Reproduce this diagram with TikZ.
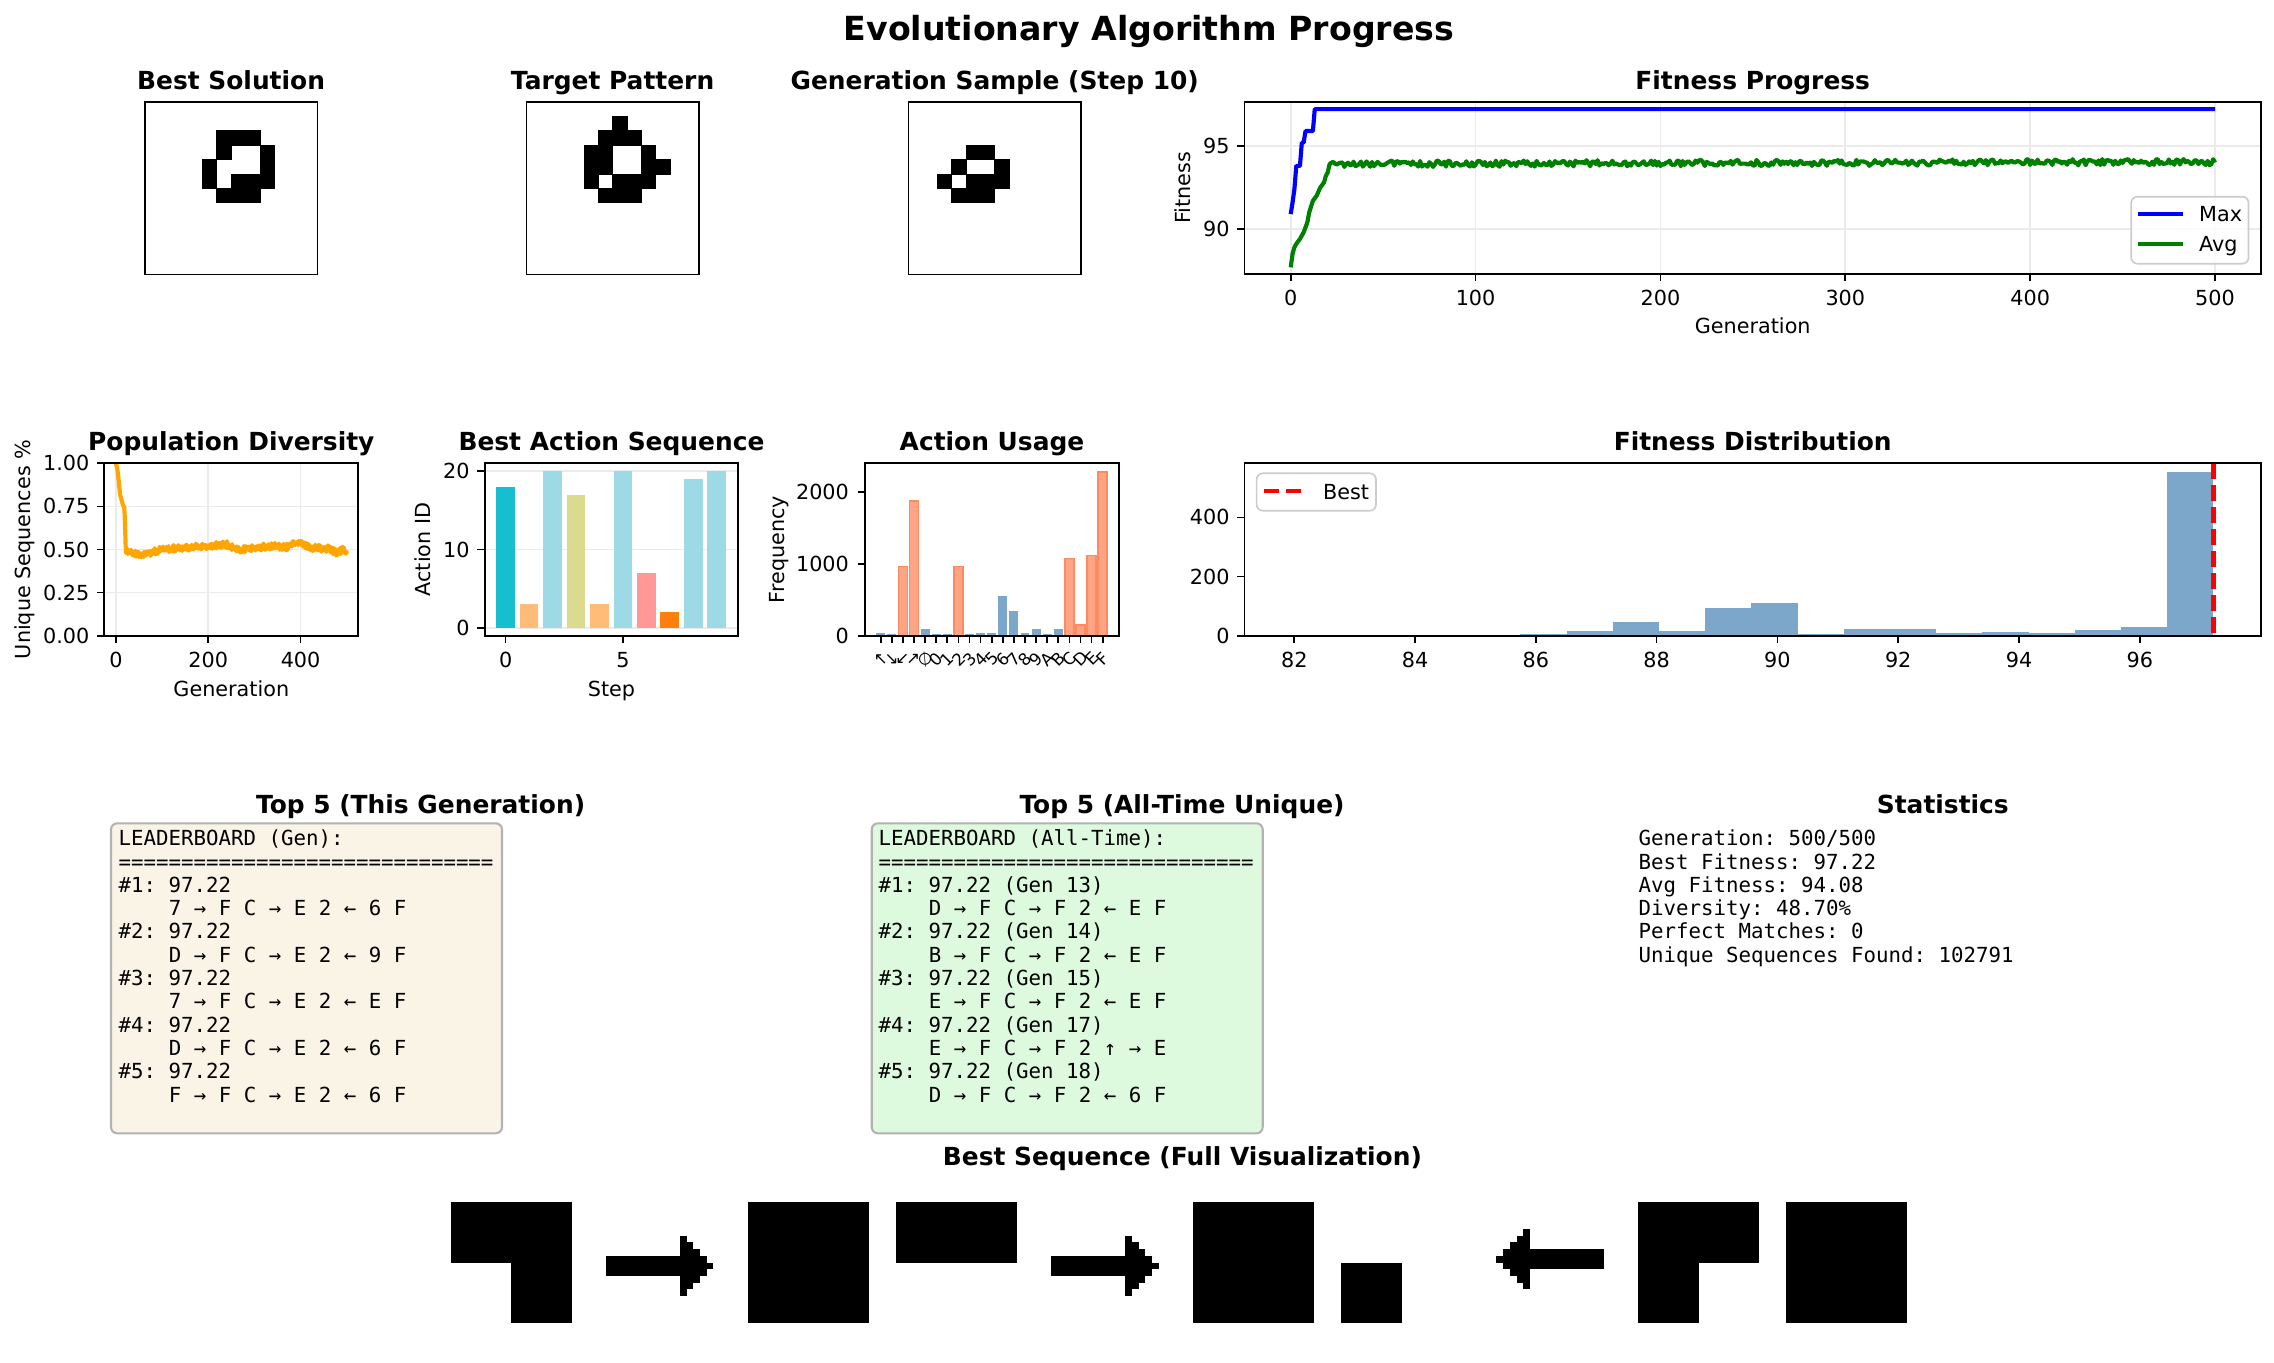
\documentclass[tikz,border=0pt]{standalone}
\usepackage{fontspec}
\setmainfont{DejaVu Sans}
\newfontfamily\dvmono{DejaVu Sans Mono}
\frenchspacing
\definecolor{gridc}{RGB}{235,235,235}
\definecolor{barblue}{RGB}{125,167,202}
\definecolor{barcoral}{RGB}{255,165,133}
\definecolor{barcoraledge}{RGB}{255,138,98}
\definecolor{wheatbg}{RGB}{250,244,231}
\definecolor{greenbg}{RGB}{222,250,222}
\definecolor{boxedge}{RGB}{178,178,178}
\definecolor{legedge}{RGB}{204,204,204}
\definecolor{mplgreen}{RGB}{0,128,0}
\definecolor{mplorange}{RGB}{255,165,0}
\definecolor{tabcyan}{HTML}{17BECF}
\definecolor{tabpeach}{HTML}{FFBB78}
\definecolor{tablblue}{HTML}{9EDAE5}
\definecolor{tabolive}{HTML}{DBDB8D}
\definecolor{tabpink}{HTML}{FF9896}
\definecolor{taborange}{HTML}{FF7F0E}
\begin{document}
\begin{tikzpicture}[x=0.0169333cm,y=-0.0169333cm,
  declare function={fpx(\pg)=1290.7+1.8486*\pg; fpy(\pf)=146-16.6*(\pf-95);
    dvx(\pg)=115.9+0.4617*\pg; dvy(\pd)=635.7-172.4*\pd;
    lerp(\ps,\pa,\pva,\pb,\pvb)=\pva+(\pvb-\pva)*(\ps-\pa)/(\pb-\pa);},
  axbox/.style={draw=black, line width=0.8pt},
  gridl/.style={draw=gridc, line width=0.8pt},
  tickl/.style={draw=black, line width=0.8pt},
  ttl/.style={font=\fontsize{12}{14}\selectfont\bfseries, anchor=base, inner sep=0pt},
  lbl/.style={font=\fontsize{10}{12}\selectfont, anchor=base, inner sep=0pt},
  ylbl/.style={font=\fontsize{10}{12}\selectfont, anchor=base, inner sep=0pt, rotate=90},
  ytl/.style={font=\fontsize{10}{12}\selectfont, anchor=east, inner sep=0pt},
  xtl/.style={font=\fontsize{10}{12}\selectfont, anchor=base, inner sep=0pt},
  legtxt/.style={font=\fontsize{10}{12}\selectfont, anchor=base west, inner sep=0pt},
  mono/.style={font=\dvmono\fontsize{10}{12}\selectfont\frenchspacing, anchor=base west, inner sep=0pt},
  cell/.style={fill=black, draw=black, line width=0.3pt},
  tbox/.style={draw=boxedge, line width=1pt, rounded corners=3pt}]
\fill[white] (0,0) rectangle (2274,1362);
\useasboundingbox (0,0) rectangle (2274,1362);

% ---------- suptitle
\node[font=\fontsize{16}{19}\selectfont\bfseries, anchor=base, inner sep=0pt] (sup) at (1149,40.7) {Evolutionary Algorithm Progress};

% ---------- Row 1: pattern images
\node[ttl] (tbest) at (231.1,89.5) {Best Solution};
\foreach \r/\c in {2/5,2/6,2/7,3/5,3/8,4/4,4/8,5/4,5/6,5/7,5/8,6/5,6/6,6/7}
  \filldraw[cell] ({144.9+14.375*\c},{102+14.375*\r}) rectangle ++(14.375,14.375);
\draw[axbox] (144.9,102) rectangle ++(172.5,172.5);

\node[ttl] (ttarget) at (612.6,89.5) {Target Pattern};
\foreach \r/\c in {1/6,2/5,2/6,2/7,3/4,3/5,3/8,4/4,4/5,4/8,4/9,5/4,5/6,5/7,5/8,6/5,6/6,6/7}
  \filldraw[cell] ({526.4+14.375*\c},{102+14.375*\r}) rectangle ++(14.375,14.375);
\draw[axbox] (526.4,102) rectangle ++(172.5,172.5);

\node[ttl] (tgen) at (994.7,89.5) {Generation Sample (Step 10)};
\foreach \r/\c in {3/4,3/5,4/3,4/6,5/2,5/4,5/5,5/6,6/3,6/4,6/5}
  \filldraw[cell] ({908.5+14.375*\c},{102+14.375*\r}) rectangle ++(14.375,14.375);
\draw[axbox] (908.5,102) rectangle ++(172.5,172.5);

% ---------- Row 1: Fitness Progress
\node[ttl] (tfp) at (1752.7,89.5) {Fitness Progress};
\foreach \g in {0,100,...,500} \draw[gridl] ({fpx(\g)},102) -- ({fpx(\g)},274);
\foreach \f in {90,95} \draw[gridl] (1244.5,{fpy(\f)}) -- (2261,{fpy(\f)});
\begin{scope}
\clip (1244.5,102) rectangle (2261,274);
\draw[blue, line width=2pt, line join=round] plot coordinates {({fpx(0)},{fpy(90.9)}) ({fpx(1)},{fpy(91.6)}) ({fpx(2)},{fpy(92.4)}) ({fpx(3)},{fpy(93.8)}) ({fpx(5)},{fpy(93.8)}) ({fpx(6)},{fpy(95.2)}) ({fpx(7)},{fpy(95.2)}) ({fpx(8)},{fpy(95.9)}) ({fpx(12)},{fpy(95.9)}) ({fpx(13)},{fpy(97.22)}) ({fpx(500)},{fpy(97.22)})};
\pgfmathsetseed{4242}
\draw[mplgreen, line width=2pt, line join=round] plot coordinates {({fpx(0)},{fpy(87.69)}) ({fpx(1)},{fpy(88.5)}) ({fpx(2)},{fpy(88.9)}) ({fpx(3)},{fpy(89.1)}) ({fpx(5)},{fpy(89.4)}) ({fpx(7)},{fpy(89.8)}) ({fpx(9)},{fpy(90.4)}) ({fpx(10)},{fpy(91.0)}) ({fpx(12)},{fpy(91.7)}) ({fpx(14)},{fpy(92.0)}) ({fpx(16)},{fpy(92.5)}) ({fpx(18)},{fpy(92.8)}) ({fpx(19)},{fpy(93.2)}) ({fpx(20)},{fpy(93.4)}) ({fpx(21)},{fpy(93.9)}) ({fpx(22)},{fpy(94.0)})}
  -- plot[domain=23:500, samples=478] ({fpx(\x)},{fpy(93.92+0.00025*(\x-23)+0.19*rand)});
\end{scope}
\draw[axbox] (1244.5,102) rectangle (2261,274);
\foreach \g in {0,100,...,500} {
  \draw[tickl] ({fpx(\g)},274) -- ++(0,7.3);
  \node[xtl] at ({fpx(\g)},305.3) {\g};
}
\foreach \f in {90,95} {
  \draw[tickl] (1244.5,{fpy(\f)}) -- ++(-7.3,0);
  \node[ytl] at (1229.9,{fpy(\f)}) {\f};
}
\node[lbl] (fpxl) at (1752.7,333.3) {Generation};
\node[ylbl] (fpyl) at (1190.2,188) {Fitness};
% legend
\draw[draw=legedge, fill=white, fill opacity=0.8, line width=0.8pt, rounded corners=3pt] (2131.2,196.7) rectangle (2248.5,263.7);
\draw[blue, line width=2pt] (2138,214) -- (2183,214);
\draw[mplgreen, line width=2pt] (2138,244) -- (2183,244);
\node[legtxt] (lmax) at (2198.7,221.7) {Max};
\node[legtxt] (lavg) at (2198.7,251.7) {Avg};

% ---------- Row 2: Population Diversity
\node[ttl] (tdiv) at (231.3,450.8) {Population Diversity};
\foreach \g in {0,200,400} \draw[gridl] ({dvx(\g)},463.3) -- ({dvx(\g)},635.7);
\foreach \d in {0,0.25,0.5,0.75,1} \draw[gridl] (104.3,{dvy(\d)}) -- (358.3,{dvy(\d)});
\begin{scope}
\clip (104.3,463.3) rectangle (358.3,635.7);
\pgfmathsetseed{777}
\draw[mplorange, line width=2pt, line join=round] plot coordinates {({dvx(0)},{dvy(1.0)}) ({dvx(3)},{dvy(0.97)}) ({dvx(6)},{dvy(0.90)}) ({dvx(9)},{dvy(0.82)}) ({dvx(12)},{dvy(0.79)}) ({dvx(15)},{dvy(0.76)}) ({dvx(18)},{dvy(0.745)}) ({dvx(19)},{dvy(0.70)}) ({dvx(20)},{dvy(0.62)}) ({dvx(21)},{dvy(0.53)}) ({dvx(22)},{dvy(0.48)}) ({dvx(23)},{dvy(0.49)})}
 -- plot[domain=24:60, samples=37] ({dvx(\x)},{dvy(lerp(\x,24,0.49,60,0.47)+0.02*rand)})
 -- plot[domain=61:100, samples=40] ({dvx(\x)},{dvy(lerp(\x,60,0.47,100,0.50)+0.02*rand)})
 -- plot[domain=101:150, samples=50] ({dvx(\x)},{dvy(lerp(\x,100,0.50,150,0.51)+0.02*rand)})
 -- plot[domain=151:200, samples=50] ({dvx(\x)},{dvy(lerp(\x,150,0.51,200,0.52)+0.02*rand)})
 -- plot[domain=201:240, samples=40] ({dvx(\x)},{dvy(lerp(\x,200,0.52,240,0.53)+0.02*rand)})
 -- plot[domain=241:265, samples=25] ({dvx(\x)},{dvy(lerp(\x,240,0.53,265,0.495)+0.02*rand)})
 -- plot[domain=266:300, samples=35] ({dvx(\x)},{dvy(lerp(\x,265,0.495,300,0.51)+0.02*rand)})
 -- plot[domain=301:340, samples=40] ({dvx(\x)},{dvy(lerp(\x,300,0.51,340,0.52)+0.02*rand)})
 -- plot[domain=341:370, samples=30] ({dvx(\x)},{dvy(lerp(\x,340,0.52,370,0.515)+0.02*rand)})
 -- plot[domain=371:395, samples=25] ({dvx(\x)},{dvy(lerp(\x,370,0.515,395,0.545)+0.02*rand)})
 -- plot[domain=396:420, samples=25] ({dvx(\x)},{dvy(lerp(\x,395,0.545,420,0.51)+0.02*rand)})
 -- plot[domain=421:460, samples=40] ({dvx(\x)},{dvy(lerp(\x,420,0.51,460,0.505)+0.02*rand)})
 -- plot[domain=461:480, samples=20] ({dvx(\x)},{dvy(lerp(\x,460,0.505,480,0.48)+0.02*rand)})
 -- plot[domain=481:490, samples=10] ({dvx(\x)},{dvy(lerp(\x,480,0.48,490,0.50)+0.02*rand)})
 -- plot[domain=491:500, samples=10] ({dvx(\x)},{dvy(lerp(\x,490,0.50,500,0.487)+0.02*rand)});
\end{scope}
\draw[axbox] (104.3,463.3) rectangle (358.3,635.7);
\foreach \g in {0,200,400} {
  \draw[tickl] ({dvx(\g)},635.7) -- ++(0,7.3);
  \node[xtl] at ({dvx(\g)},667.0) {\g};
}
\foreach \d/\t in {0/0.00,0.25/0.25,0.5/0.50,0.75/0.75,1/1.00} {
  \draw[tickl] (104.3,{dvy(\d)}) -- ++(-7.3,0);
  \node[ytl] at (89.7,{dvy(\d)}) {\t};
}
\node[lbl] (divxl) at (231.3,696) {Generation};
\node[ylbl] (divyl) at (30.1,549.5) {Unique Sequences \%};

% ---------- Row 2: Best Action Sequence
\node[ttl] (tbas) at (611.5,450.8) {Best Action Sequence};
\foreach \v in {0,10,20} \draw[gridl] (484.7,{627.9-7.836*\v}) -- (738.3,{627.9-7.836*\v});
\foreach \s/\v/\c in {0/18/tabcyan,1/3/tabpeach,2/20/tablblue,3/17/tabolive,4/3/tabpeach,5/20/tablblue,6/7/tabpink,7/2/taborange,8/19/tablblue,9/20/tablblue}
  \fill[\c] ({505.6+23.46*\s-9.38},627.9) rectangle ({505.6+23.46*\s+9.38},{627.9-7.836*\v});
\draw[axbox] (484.7,463.3) rectangle (738.3,635.7);
\foreach \s in {0,5} {
  \draw[tickl] ({505.6+23.46*\s},635.7) -- ++(0,7.3);
  \node[xtl] at ({505.6+23.46*\s},667.0) {\s};
}
\foreach \v in {0,10,20} {
  \draw[tickl] (484.7,{627.9-7.836*\v}) -- ++(-7.3,0);
  \node[ytl] at (470,{627.9-7.836*\v}) {\v};
}
\node[lbl] (basxl) at (611.5,696) {Step};
\node[ylbl] (basyl) at (430.3,549.5) {Action ID};

% ---------- Row 2: Action Usage
\node[ttl] (tau) at (992,450.8) {Action Usage};
\foreach \i/\n in {0/42,1/23,4/93,5/23,6/23,8/23,9/42,10/42,11/551,12/343,13/42,14/93,15/23,16/93}
  \fill[barblue] ({880.7+11.1*\i-4.44},635.7) rectangle ({880.7+11.1*\i+4.44},{635.7-0.072*\n});
\foreach \i/\n in {2/960,3/1875,7/960,17/1074,18/153,19/1116,20/2278}
  \filldraw[fill=barcoral, draw=barcoraledge, line width=0.8pt] ({880.7+11.1*\i-4.44},635.7) rectangle ({880.7+11.1*\i+4.44},{635.7-0.072*\n});
\draw[axbox] (865,463.3) rectangle (1119,635.7);
\foreach \i/\t in {0/↑,1/↓,2/←,3/→,4/∅,5/0,6/1,7/2,8/3,9/4,10/5,11/6,12/7,13/8,14/9,15/A,16/B,17/C,18/D,19/E,20/F} {
  \draw[tickl] ({880.7+11.1*\i},635.7) -- ++(0,7.3);
  \node[font=\fontsize{8}{10}\selectfont, inner sep=0pt, rotate=45] at ({880.7+11.1*\i},659) {\t};
}
\foreach \n in {0,1000,2000} {
  \draw[tickl] (865,{635.7-0.072*\n}) -- ++(-7.3,0);
  \node[ytl] at (849.3,{635.7-0.072*\n}) {\n};
}
\node[ylbl] (auyl) at (784,549.5) {Frequency};

% ---------- Row 2: Fitness Distribution
\node[ttl] (tfd) at (1752.7,450.8) {Fitness Distribution};
\foreach \k/\n in {5/5,6/16,7/47,8/16,9/95,10/112,11/5,12/24,13/24,14/10,15/13,16/10,17/20,18/30,19/552}
  \fill[barblue] ({1294.3+60.39*(0.765*\k-0.08)},635.7) rectangle ({1294.3+60.39*(0.765*(\k+1)-0.08)},{635.7-0.2958*\n});
\draw[red, line width=2pt, dash pattern=on 7.4pt off 3.2pt] (2213.4,463.3) -- (2213.4,635.7);
\draw[axbox] (1244.5,463.3) rectangle (2261,635.7);
\foreach \f in {82,84,...,96} {
  \draw[tickl] ({1294.3+60.39*(\f-82)},635.7) -- ++(0,7.3);
  \node[xtl] at ({1294.3+60.39*(\f-82)},667.0) {\f};
}
\foreach \n in {0,200,400} {
  \draw[tickl] (1244.5,{635.7-0.2958*\n}) -- ++(-7.3,0);
  \node[ytl] at (1229.9,{635.7-0.2958*\n}) {\n};
}
\draw[draw=legedge, fill=white, fill opacity=0.8, line width=0.8pt, rounded corners=3pt] (1256.6,473.3) rectangle (1376,510.7);
\draw[red, line width=2pt, dash pattern=on 7.4pt off 3.2pt] (1263.7,490.7) -- (1302,490.7);
\node[legtxt] (lbest) at (1322.7,499) {Best};

% ---------- Row 3: leaderboards and statistics
\node[ttl] (tlg) at (420.6,813) {Top 5 (This Generation)};
\draw[tbox, fill=wheatbg] (111,823.3) rectangle (502,1133.3);
\node[mono] (g0) at (118.3,845.7) {LEADERBOARD (Gen):};
\node[mono] (g1) at (118.3,869.0) {==============================};
\node[mono] (g2) at (118.3,892.3) {\#1: 97.22};
\node[mono] (g3) at (168.5,915.6) {7 → F C → E 2 ← 6 F};
\node[mono] (g4) at (118.3,938.9) {\#2: 97.22};
\node[mono] (g5) at (168.5,962.2) {D → F C → E 2 ← 9 F};
\node[mono] (g6) at (118.3,985.5) {\#3: 97.22};
\node[mono] (g7) at (168.5,1008.8) {7 → F C → E 2 ← E F};
\node[mono] (g8) at (118.3,1032.1) {\#4: 97.22};
\node[mono] (g9) at (168.5,1055.4) {D → F C → E 2 ← 6 F};
\node[mono] (g10) at (118.3,1078.7) {\#5: 97.22};
\node[mono] (g11) at (168.5,1102.0) {F → F C → E 2 ← 6 F};

\node[ttl] (tla) at (1182,813) {Top 5 (All-Time Unique)};
\draw[tbox, fill=greenbg] (871.7,823.3) rectangle (1262.7,1133.3);
\node[mono] (a0) at (878.3,845.7) {LEADERBOARD (All-Time):};
\node[mono] (a1) at (878.3,869.0) {==============================};
\node[mono] (a2) at (878.3,892.3) {\#1: 97.22 (Gen 13)};
\node[mono] (a3) at (928.5,915.6) {D → F C → F 2 ← E F};
\node[mono] (a4) at (878.3,938.9) {\#2: 97.22 (Gen 14)};
\node[mono] (a5) at (928.5,962.2) {B → F C → F 2 ← E F};
\node[mono] (a6) at (878.3,985.5) {\#3: 97.22 (Gen 15)};
\node[mono] (a7) at (928.5,1008.8) {E → F C → F 2 ← E F};
\node[mono] (a8) at (878.3,1032.1) {\#4: 97.22 (Gen 17)};
\node[mono] (a9) at (928.5,1055.4) {E → F C → F 2 ↑ → E};
\node[mono] (a10) at (878.3,1078.7) {\#5: 97.22 (Gen 18)};
\node[mono] (a11) at (928.5,1102.0) {D → F C → F 2 ← 6 F};

\node[ttl] (tst) at (1942.8,813) {Statistics};
\node[mono] (s0) at (1638.3,845.7) {Generation: 500/500};
\node[mono] (s1) at (1638.3,869.0) {Best Fitness: 97.22};
\node[mono] (s2) at (1638.3,892.3) {Avg Fitness: 94.08};
\node[mono] (s3) at (1638.3,915.6) {Diversity: 48.70\%};
\node[mono] (s4) at (1638.3,938.9) {Perfect Matches: 0};
\node[mono] (s5) at (1638.3,962.2) {Unique Sequences Found: 102791};

% ---------- Row 4: best sequence visualization
\node[ttl] (tbs) at (1182.4,1165) {Best Sequence (Full Visualization)};
% tile 0: D
\fill (450.8,1202) rectangle ++(121,60.5);
\fill (511.3,1262.5) rectangle ++(60.5,60.5);
% tile 2: F
\fill (747.6,1202) rectangle ++(121,121);
% tile 3: C
\fill (896.0,1202) rectangle ++(121,60.5);
% tile 5: F
\fill (1192.8,1202) rectangle ++(121,121);
% tile 6: 2
\fill (1341.2,1262.5) rectangle ++(60.5,60.5);
% tile 8: E
\fill (1638.0,1202) rectangle ++(121,60.5);
\fill (1638.0,1262.5) rectangle ++(60.5,60.5);
% tile 9: F
\fill (1786.4,1202) rectangle ++(121,121);
% right arrows (tiles 1 and 4)
\foreach \L in {599.2,1044.4} {
  \fill ({\L+6.722},{1202+8*6.722}) rectangle ({\L+12*6.722},{1202+11*6.722});
  \foreach \c/\ra/\rb in {12/5/14,13/6/13,14/7/12,15/8/11,16/9/10}
    \fill ({\L+\c*6.722},{1202+\ra*6.722}) rectangle ({\L+(\c+1)*6.722},{1202+\rb*6.722});
}
% left arrow (tile 7)
\foreach \c/\ra/\rb in {1/8/9,2/7/10,3/6/11,4/5/12,5/4/13}
  \fill ({1489.6+\c*6.722},{1202+\ra*6.722}) rectangle ({1489.6+(\c+1)*6.722},{1202+\rb*6.722});
\fill ({1489.6+6*6.722},{1202+7*6.722}) rectangle ({1489.6+17*6.722},{1202+10*6.722});
\end{tikzpicture}
\end{document}
